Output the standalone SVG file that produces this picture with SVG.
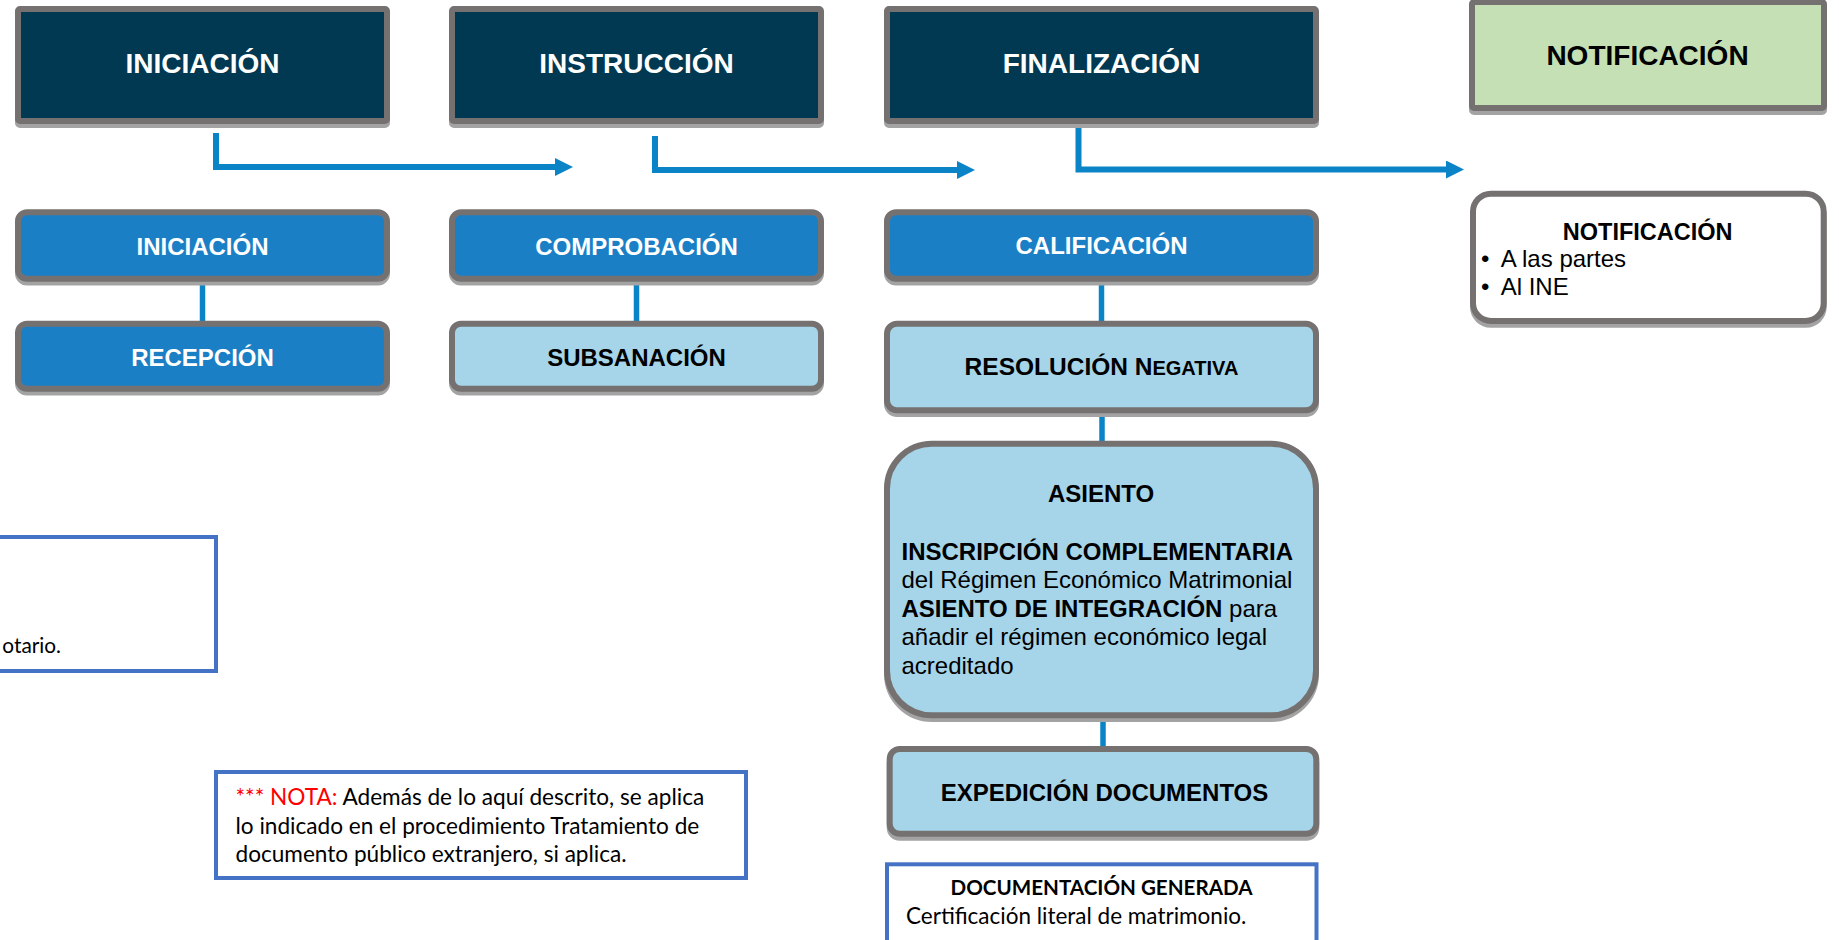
<svg xmlns="http://www.w3.org/2000/svg" width="1839" height="940" viewBox="0 0 1839 940">
<style>
.bg{fill:#ffffff}
.sh{fill:#a3a3a3;stroke:#a3a3a3;stroke-width:6}
.navy{fill:#013852;stroke:#767171;stroke-width:6}
.mid{fill:#1b7fc6;stroke:#767171;stroke-width:6}
.light{fill:#a6d4e8;stroke:#767171;stroke-width:6}
.green{fill:#c5e0b4;stroke:#767171;stroke-width:6}
.white{fill:#ffffff;stroke:#767171;stroke-width:6}
.note{fill:#ffffff;stroke:#4472c4;stroke-width:4}
.conn{fill:none;stroke:#0a84c6;stroke-width:6}
.link{fill:none;stroke:#0a84c6;stroke-width:5.5}
.t{font-family:"Liberation Sans",Arial,sans-serif;font-weight:bold;text-anchor:middle}
.tw{fill:#ffffff}
.tb{fill:#000000}
.r{font-family:"Liberation Sans",Arial,sans-serif;fill:#000000}
.c{font-family:Lato,"Liberation Sans",sans-serif;fill:#000000}
</style>
<defs>
<marker id="ah" markerUnits="userSpaceOnUse" markerWidth="18" markerHeight="18" refX="1" refY="9" orient="auto" viewBox="0 0 18 18">
<path d="M0,0 L18,9 L0,18 Z" fill="#0a84c6"/>
</marker>
</defs>
<rect class="bg" x="0" y="0" width="1839" height="940"/>

<g id="connectors">
<path class="conn" d="M216,133 V167 H556" marker-end="url(#ah)"/>
<path class="conn" d="M655,136 V170 H958" marker-end="url(#ah)"/>
<path class="conn" d="M1078.5,124 V169.5 H1447" marker-end="url(#ah)"/>
<line class="link" x1="202.5" y1="281" x2="202.5" y2="322"/>
<line class="link" x1="636.5" y1="281" x2="636.5" y2="322"/>
<line class="link" x1="1101.5" y1="281" x2="1101.5" y2="322"/>
<line class="link" x1="1102" y1="412" x2="1102" y2="442"/>
<line class="link" x1="1103" y1="717" x2="1103" y2="748"/>
</g>

<g id="fase-iniciacion">
<rect class="sh" x="18" y="13" width="369" height="112" rx="2"/>
<rect class="navy" x="18" y="9" width="369" height="112" rx="2"/>
<text class="t tw" x="202.5" y="73" font-size="28">INICIACIÓN</text>
</g>
<g id="fase-instruccion">
<rect class="sh" x="452" y="13" width="369" height="112" rx="2"/>
<rect class="navy" x="452" y="9" width="369" height="112" rx="2"/>
<text class="t tw" x="636.5" y="73" font-size="28">INSTRUCCIÓN</text>
</g>
<g id="fase-finalizacion">
<rect class="sh" x="887" y="13" width="429" height="112" rx="2"/>
<rect class="navy" x="887" y="9" width="429" height="112" rx="2"/>
<text class="t tw" x="1101.5" y="73" font-size="28">FINALIZACIÓN</text>
</g>
<g id="fase-notificacion">
<rect class="sh" x="1472" y="6" width="352" height="106" rx="2"/>
<rect class="green" x="1472" y="2" width="352" height="106" rx="2"/>
<text class="t tb" x="1647.5" y="65" font-size="28">NOTIFICACIÓN</text>
</g>

<g id="iniciacion">
<rect class="sh" x="18" y="216" width="369" height="66.5" rx="9"/>
<rect class="mid" x="18" y="212.3" width="369" height="66.5" rx="9"/>
<text class="t tw" x="202.5" y="255" font-size="24">INICIACIÓN</text>
</g>
<g id="recepcion">
<rect class="sh" x="18" y="327.5" width="369" height="65" rx="9"/>
<rect class="mid" x="18" y="323.7" width="369" height="65" rx="9"/>
<text class="t tw" x="202.5" y="366" font-size="24">RECEPCIÓN</text>
</g>
<g id="comprobacion">
<rect class="sh" x="452" y="216" width="369" height="66.5" rx="9"/>
<rect class="mid" x="452" y="212.3" width="369" height="66.5" rx="9"/>
<text class="t tw" x="636.5" y="255" font-size="24">COMPROBACIÓN</text>
</g>
<g id="subsanacion">
<rect class="sh" x="452" y="327.5" width="369" height="65" rx="9"/>
<rect class="light" x="452" y="323.7" width="369" height="65" rx="9"/>
<text class="t tb" x="636.5" y="366" font-size="24">SUBSANACIÓN</text>
</g>
<g id="calificacion">
<rect class="sh" x="887" y="216" width="429" height="66.5" rx="9"/>
<rect class="mid" x="887" y="212.3" width="429" height="66.5" rx="9"/>
<text class="t tw" x="1101.5" y="254" font-size="24">CALIFICACIÓN</text>
</g>
<g id="resolucion-negativa">
<rect class="sh" x="887" y="327.5" width="429" height="86.6" rx="10"/>
<rect class="light" x="887" y="323.7" width="429" height="86.6" rx="10"/>
<text class="t tb" x="1101.5" y="375" font-size="24.5">RESOLUCIÓN N<tspan font-size="20">EGATIVA</tspan></text>
</g>
<g id="asiento">
<rect class="sh" x="887" y="447.5" width="429" height="271.6" rx="45"/>
<rect class="light" x="887" y="443.7" width="429" height="271.6" rx="45"/>
<text class="t tb" x="1101" y="501.7" font-size="24">ASIENTO</text>
<text class="r" x="901.5" y="560" font-size="24" font-weight="bold">INSCRIPCIÓN COMPLEMENTARIA</text>
<text class="r" x="901.5" y="588.3" font-size="24">del Régimen Económico Matrimonial</text>
<text class="r" x="901.5" y="616.7" font-size="24"><tspan font-weight="bold">ASIENTO DE INTEGRACIÓN</tspan> para</text>
<text class="r" x="901.5" y="645" font-size="24">añadir el régimen económico legal</text>
<text class="r" x="901.5" y="674" font-size="24">acreditado</text>
</g>
<g id="expedicion-documentos">
<rect class="sh" x="889.7" y="753" width="426.6" height="84.7" rx="10"/>
<rect class="light" x="889.7" y="749" width="426.6" height="84.7" rx="10"/>
<text class="t tb" x="1104.5" y="800.7" font-size="24">EXPEDICIÓN DOCUMENTOS</text>
</g>
<g id="notificacion">
<rect class="sh" x="1473" y="197.5" width="350.7" height="127.3" rx="18"/>
<rect class="white" x="1473" y="193.7" width="350.7" height="127.3" rx="18"/>
<text class="t tb" x="1647.7" y="240" font-size="23.5">NOTIFICACIÓN</text>
<text class="r" x="1481" y="266.7" font-size="24">•</text>
<text class="r" x="1500.7" y="266.7" font-size="24">A las partes</text>
<text class="r" x="1481" y="295" font-size="24">•</text>
<text class="r" x="1500.7" y="295" font-size="24">Al INE</text>
</g>

<g id="documentacion-generada">
<rect class="note" x="887" y="864.3" width="429.5" height="100"/>
<text class="c" x="1101.5" y="895" font-size="20.6" font-weight="bold" text-anchor="middle">DOCUMENTACIÓN GENERADA</text>
<text class="c" x="906" y="924" font-size="22.5">Certificación literal de matrimonio.</text>
</g>
<g id="nota">
<rect class="note" x="216" y="772" width="530" height="106"/>
<text class="c" x="235.5" y="805" font-size="22.6"><tspan fill="#ff0000">*** NOTA:</tspan> Además de lo aquí descrito, se aplica</text>
<text class="c" x="235.5" y="834" font-size="22.6">lo indicado en el procedimiento Tratamiento de</text>
<text class="c" x="235.5" y="861.7" font-size="22.6">documento público extranjero, si aplica.</text>
</g>
<g id="nota-izquierda">
<rect class="note" x="-10" y="537" width="226" height="134"/>
<text class="c" x="61" y="653.3" font-size="20.8" text-anchor="end">otario.</text>
</g>
</svg>
